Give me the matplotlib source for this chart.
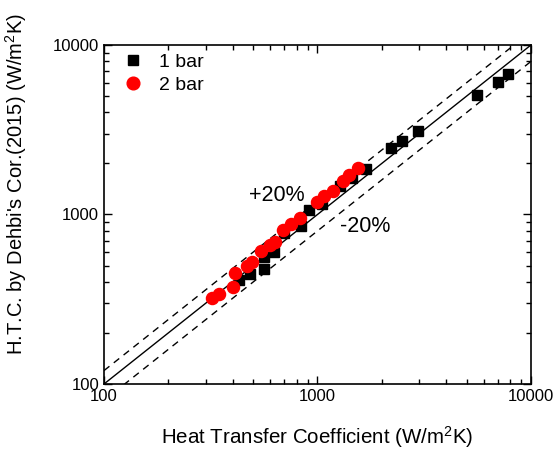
import matplotlib
matplotlib.use('Agg')
import matplotlib.pyplot as plt
import numpy as np
from matplotlib.ticker import LogLocator, NullFormatter, FixedLocator, FixedFormatter

plt.rcParams['font.family'] = ['Liberation Sans', 'DejaVu Sans']
plt.rcParams['mathtext.fontset'] = 'custom'
plt.rcParams['mathtext.rm'] = 'Liberation Sans'
plt.rcParams['mathtext.it'] = 'Liberation Sans:italic'

# 1 bar data (measured vs. Dehbi correlation)
htc_1bar = [429, 483, 562, 562, 626, 699, 834, 915, 1046, 1275, 1446, 1687,
            2202, 2480, 2946, 5568, 7027, 7830]
dehbi_1bar = [408, 446, 474, 561, 603, 775, 855, 1063, 1153, 1479, 1649, 1855,
              2478, 2714, 3109, 5050, 6025, 6745]

# 2 bar data
htc_2bar = [320, 347, 401, 413, 469, 493, 544, 596, 629, 689, 751, 828,
            991, 1073, 1176, 1314, 1412, 1543]
dehbi_2bar = [320, 340, 373, 449, 497, 527, 613, 661, 691, 810, 879, 960,
              1177, 1277, 1385, 1572, 1710, 1874]

axis_min, axis_max = 100, 10000
band = 0.2
decade_ticks = [100, 1000, 10000]
decade_labels = ['100', '1000', '10000']

fig = plt.figure(figsize=(5.57, 4.53), dpi=100)
ax = fig.add_axes([0.1867, 0.1523, 0.9533 - 0.1867, 0.9007 - 0.1523])

ax.set_xscale('log')
ax.set_yscale('log')
ax.set_xlim(axis_min, axis_max)
ax.set_ylim(axis_min, axis_max)

# reference line and +/-20% band
line_x = np.array([axis_min, axis_max])
ax.plot(line_x, line_x, color='black', linewidth=1.0)
ax.plot(line_x, line_x * (1 + band), color='black', linewidth=1.0, linestyle=(0, (5, 4)))
ax.plot(line_x, line_x * (1 - band), color='black', linewidth=1.0, linestyle=(0, (5, 4)))

# data points
ax.plot(htc_1bar, dehbi_1bar, linestyle='none', marker='s', markersize=7.5,
        color='black', label='1 bar')
ax.plot(htc_2bar, dehbi_2bar, linestyle='none', marker='o', markersize=8.7,
        color='red', label='2 bar')

ax.text(646, 1303, '+20%', fontsize=15.5, ha='center', va='center')
ax.text(1669, 855, '-20%', fontsize=15.5, ha='center', va='center')

# ticks
for axis in (ax.xaxis, ax.yaxis):
    axis.set_major_locator(FixedLocator(decade_ticks))
    axis.set_major_formatter(FixedFormatter(decade_labels))
    axis.set_minor_locator(LogLocator(base=10, subs=np.arange(2, 10)))
    axis.set_minor_formatter(NullFormatter())
ax.tick_params(which='both', direction='in', top=True, right=True, labelsize=12)
ax.tick_params(which='major', length=6, width=1)
ax.tick_params(which='minor', length=3.5, width=1)

for spine in ax.spines.values():
    spine.set_linewidth(1.2)

ax.set_xlabel('Heat Transfer Coefficient (W/m$^2$K)', fontsize=14.8)
ax.xaxis.set_label_coords(0.5, -0.118)
ax.set_ylabel("H.T.C. by Dehbi's Cor.(2015) (W/m$^2$K)", fontsize=14.5)
ax.yaxis.set_label_coords(-0.175, 0.59)

ax.legend(loc='upper left', bbox_to_anchor=(0, 1.018), frameon=False, fontsize=14,
          handlelength=1.5, handletextpad=0.6, borderaxespad=0.35,
          labelspacing=0.25, markerscale=1.05)

plt.savefig('out.png', dpi=100)
plt.close()
